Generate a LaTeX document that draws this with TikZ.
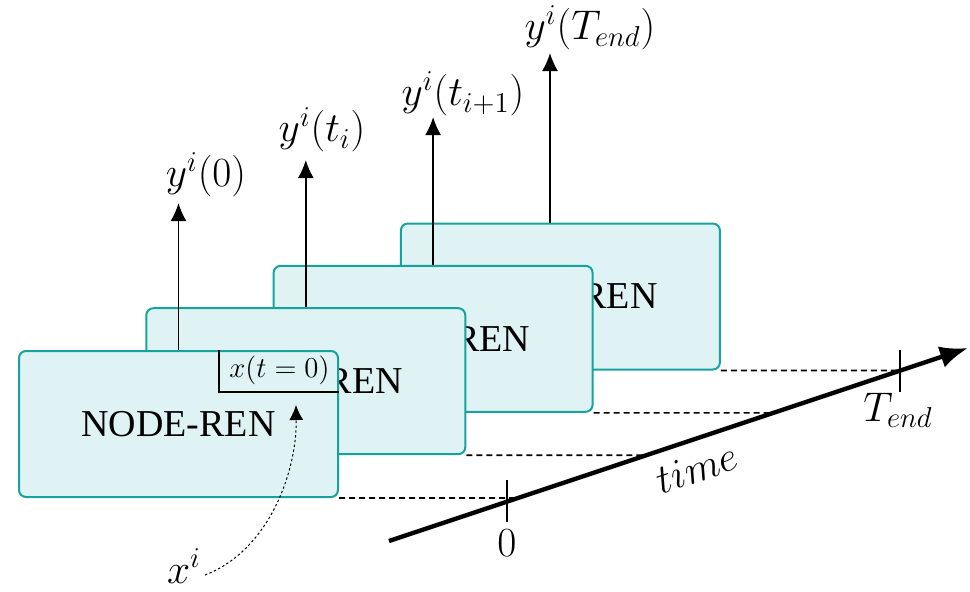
\documentclass[tikz,border=0pt]{standalone}
\usepackage{fontspec}
\newfontfamily\boxfont{Liberation Serif}
\usetikzlibrary{arrows.meta}
\definecolor{boxfill}{RGB}{223,243,244}
\definecolor{boxdraw}{RGB}{22,163,158}
\begin{document}
\begin{tikzpicture}[x=0.5pt,y=-0.5pt,
  renbox/.style={draw=boxdraw, fill=boxfill, line width=1pt, rounded corners=3.5pt,
    minimum width=159.5pt, minimum height=73pt, inner sep=0pt,
    font=\boxfont\fontsize{19}{22}\selectfont},
  outarrow/.style={line width=0.9pt, -{Latex[length=9pt,width=8pt]}},
  mathlbl/.style={inner sep=0pt, font=\fontsize{20}{24}\selectfont},
  smalllbl/.style={inner sep=0pt, font=\fontsize{15}{18}\selectfont},
  guide/.style={dash pattern=on 3pt off 2pt, line width=0.8pt},
  ticksty/.style={line width=0.8pt},
  axissty/.style={line width=2.2pt, -{Latex[length=14pt,width=11pt]}},
  initarrow/.style={line width=0.5pt, dash pattern=on 1.2pt off 1.2pt, -{Latex[length=7.5pt,width=7pt]}}]
\useasboundingbox (0,0) rectangle (970,591);

% boxes, back to front
\node[renbox] (b4) at (560.4,296.5) {NODE-REN};
\node[renbox] (b3) at (433.1,338.8) {NODE-REN};
\node[renbox] (b2) at (305.8,381.2) {NODE-REN};
\node[renbox] (b1) at (178.5,424) {NODE-REN};

% time axis
\coordinate (ax0) at (389,541);
\coordinate (ax1) at (968,348);
\draw[axissty] (ax0) -- (ax1);

% dashed guides
\draw[guide] (b1.south east) -- (intersection of ax0--ax1 and b1.south east--b1.south west);
\draw[guide] (b2.south east) -- (intersection of ax0--ax1 and b2.south east--b2.south west);
\draw[guide] (b3.south east) -- (intersection of ax0--ax1 and b3.south east--b3.south west);
\draw[guide] (b4.south east) -- (intersection of ax0--ax1 and b4.south east--b4.south west);

% ticks
\coordinate (k0) at (507,501);
\coordinate (kT) at (900,371);
\draw[ticksty] (k0) ++(0,-21) -- ++(0,42);
\draw[ticksty] (kT) ++(0,-21) -- ++(0,42);
\node[mathlbl] (l0) at (507,543) {$0$};
\node[mathlbl, anchor=north] (lT) at (898,393) {$T_{end}$};
\node[mathlbl, rotate=18.43] (ltime) at (697,468) {$time$};

% output arrows
\coordinate (t1) at (178,203);
\coordinate (t2) at (305,160);
\coordinate (t3) at (432,117);
\coordinate (t4) at (550,53);
\draw[outarrow] (b1.north) -- (b1.north |- t1);
\draw[outarrow] (b2.north) -- (b2.north |- t2);
\draw[outarrow] (b3.north) -- (b3.north |- t3);
\draw[outarrow] (b4.north -| t4) -- (t4);
\node[mathlbl] (y0) at (206,175) {$y^i(0)$};
\node[mathlbl] (y1) at (322,130) {$y^i(t_i)$};
\node[mathlbl] (y2) at (463,94) {$y^i(t_{i+1})$};
\node[mathlbl] (y3) at (590,28) {$y^i(T_{end})$};

% initial state
\coordinate (xc) at (219,392);
\draw[line width=0.9pt] (b1.north -| xc) -- (xc) -- (xc -| b1.east);
\node[smalllbl] (xl) at (279.5,370) {$x(t=0)$};
\node[mathlbl, anchor=base] (xi) at (184,583) {$x^i$};
\coordinate (xs) at (205,575);
\coordinate (xe) at (296,405);
\draw[initarrow] (xs) .. controls (270,550) and (297,470) .. (xe);
\end{tikzpicture}
\end{document}
